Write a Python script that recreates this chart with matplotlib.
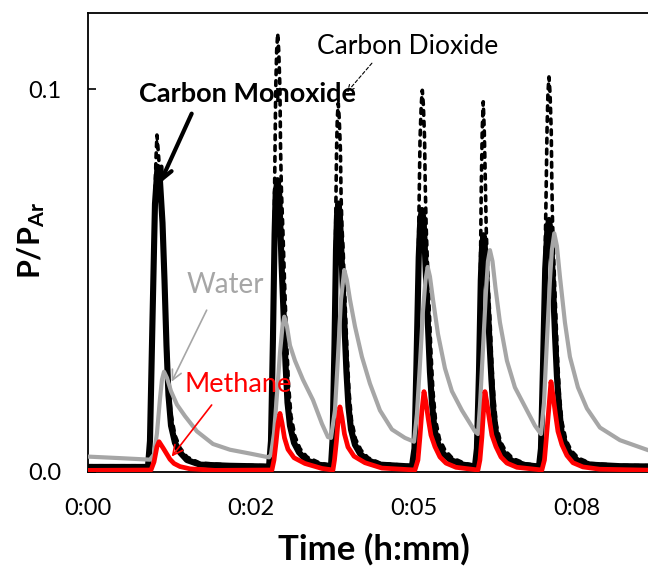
import matplotlib
matplotlib.use("Agg")
import matplotlib.pyplot as plt

plt.rcParams["font.family"] = ["Lato", "DejaVu Sans"]
plt.rcParams["mathtext.fontset"] = "custom"
plt.rcParams["mathtext.rm"] = "Lato"
plt.rcParams["mathtext.bf"] = "Lato:bold"

# ---- data: time in seconds, signal as P/P_Ar ----
co_t = [0, 63.6, 65.7, 68.4, 71.0, 73.7, 76.3, 79.0, 81.1, 83.2, 85.3, 88.0, 92.2, 97.5, 104.9, 118.7, 150.5, 191.9,
        194.0, 196.1, 197.8, 199.0, 200.9, 202.6, 203.8, 205.1, 207.2, 209.4, 211.5, 214.1, 218.4, 223.7, 231.1, 243.8, 257.6,
        259.2, 261.3, 262.9, 264.0, 265.5, 267.0, 268.2, 269.8, 271.9, 274.0, 276.1, 278.8, 283.0, 288.3, 295.7, 309.5, 343.4,
        346.1, 348.2, 350.6, 352.3, 354.0, 355.7, 357.0, 358.6, 360.6, 362.5, 364.6, 367.3, 371.5, 376.8, 384.3, 397.5, 410.2,
        412.3, 414.5, 416.4, 417.8, 419.2, 420.6, 422.0, 423.7, 425.6, 427.7, 429.8, 432.5, 436.7, 442.0, 449.4, 463.2, 478.1,
        480.2, 482.3, 484.7, 486.9, 488.7, 490.4, 491.8, 493.4, 495.2, 497.1, 499.3, 501.9, 506.2, 511.5, 518.9, 532.1, 563.9, 606.3]
co_v = [0.0012, 0.0012, 0.008, 0.040, 0.070, 0.0797, 0.076, 0.065, 0.050, 0.033, 0.020, 0.012, 0.0075, 0.005, 0.003, 0.0018, 0.0015, 0.0013,
        0.008, 0.035, 0.062, 0.073, 0.0762, 0.073, 0.065, 0.055, 0.042, 0.028, 0.018, 0.012, 0.0075, 0.005, 0.003, 0.0018, 0.0014,
        0.008, 0.033, 0.058, 0.067, 0.0701, 0.067, 0.060, 0.050, 0.038, 0.026, 0.017, 0.011, 0.007, 0.0047, 0.003, 0.0018, 0.0013,
        0.006, 0.028, 0.056, 0.066, 0.0684, 0.066, 0.059, 0.049, 0.037, 0.026, 0.018, 0.011, 0.007, 0.0046, 0.003, 0.0018, 0.0013,
        0.006, 0.026, 0.050, 0.059, 0.0618, 0.059, 0.053, 0.044, 0.034, 0.024, 0.016, 0.010, 0.0065, 0.0043, 0.0028, 0.0017, 0.0013,
        0.006, 0.027, 0.053, 0.063, 0.0658, 0.063, 0.056, 0.046, 0.035, 0.025, 0.017, 0.0105, 0.007, 0.0045, 0.0029, 0.0018, 0.0014, 0.0013]

co2_t = [0, 63.6, 65.7, 68.4, 70.5, 72.1, 73.1, 74.7, 76.9, 79.0, 81.1, 83.2, 85.3, 88.0, 92.2, 97.5, 104.9, 118.7, 150.5, 191.9,
         194.0, 196.1, 197.3, 198.3, 199.0, 200.0, 201.1, 202.2, 203.5, 204.1, 205.0, 206.6, 208.3, 210.4, 212.5, 215.2, 219.4, 224.7, 232.1, 245.9, 257.6,
         259.2, 261.3, 262.2, 262.9, 263.5, 264.3, 265.3, 266.3, 267.6, 268.3, 269.2, 270.3, 272.4, 274.5, 276.7, 279.3, 283.6, 289.4, 296.8, 310.6, 343.4,
         346.1, 348.2, 350.3, 351.3, 352.0, 353.3, 354.4, 355.5, 356.8, 357.5, 358.5, 359.5, 361.5, 363.6, 365.7, 368.4, 372.6, 378.4, 385.8, 399.6, 410.2,
         412.3, 414.5, 415.8, 416.4, 416.9, 417.9, 419.0, 420.1, 421.4, 422.1, 423.0, 424.0, 426.1, 428.2, 430.4, 433.0, 437.3, 443.1, 450.5, 464.3, 478.1,
         480.2, 482.3, 484.5, 485.6, 486.6, 487.6, 488.7, 489.8, 491.1, 491.7, 492.4, 493.8, 495.6, 497.7, 499.8, 502.4, 506.7, 512.5, 519.9, 533.2, 563.9, 606.3]
co2_v = [0.0015, 0.0015, 0.008, 0.040, 0.068, 0.082, 0.088, 0.083, 0.075, 0.067, 0.053, 0.037, 0.024, 0.015, 0.0095, 0.0062, 0.0038, 0.0022, 0.0017, 0.0015,
         0.008, 0.035, 0.062, 0.085, 0.100, 0.110, 0.1146, 0.110, 0.100, 0.085, 0.074, 0.063, 0.050, 0.035, 0.023, 0.0145, 0.0092, 0.006, 0.0038, 0.0022, 0.0016,
         0.008, 0.033, 0.055, 0.072, 0.084, 0.0925, 0.0963, 0.0925, 0.084, 0.072, 0.064, 0.059, 0.045, 0.032, 0.021, 0.0135, 0.0085, 0.0056, 0.0036, 0.0021, 0.0015,
         0.006, 0.028, 0.058, 0.075, 0.087, 0.096, 0.0997, 0.096, 0.087, 0.075, 0.064, 0.057, 0.044, 0.031, 0.021, 0.0135, 0.0085, 0.0056, 0.0036, 0.0021, 0.0016,
         0.006, 0.026, 0.045, 0.062, 0.074, 0.089, 0.0967, 0.089, 0.074, 0.064, 0.057, 0.050, 0.040, 0.028, 0.019, 0.012, 0.0078, 0.0052, 0.0034, 0.002, 0.0016,
         0.006, 0.027, 0.055, 0.072, 0.089, 0.099, 0.1032, 0.099, 0.089, 0.076, 0.066, 0.055, 0.043, 0.030, 0.020, 0.013, 0.0082, 0.0054, 0.0035, 0.0021, 0.0016, 0.0015]

h2o_t = [0, 33.9, 65.7, 70.0, 73.1, 76.3, 78.4, 80.6, 83.7, 88.0, 94.3, 102.8, 115.5, 132.5, 150.5, 171.7, 191.9,
         194.0, 197.2, 200.3, 203.5, 206.2, 208.1, 210.9, 214.1, 219.4, 227.9, 238.5, 248.0, 254.4, 257.6,
         261.8, 265.0, 268.2, 271.7, 274.5, 277.7, 283.0, 290.4, 298.9, 309.5, 322.2, 336.0, 345.6,
         348.7, 351.9, 355.1, 357.8, 360.1, 362.5, 365.7, 371.0, 378.4, 385.8, 396.4, 410.2, 413.4,
         415.5, 418.7, 421.9, 424.0, 426.1, 428.8, 432.0, 436.7, 444.1, 452.6, 463.2, 473.8, 480.2,
         483.4, 486.5, 489.7, 491.8, 494.3, 497.1, 500.3, 505.6, 510.9, 519.4, 528.9, 542.7, 563.9, 593.6, 606.3]
h2o_v = [0.0039, 0.0035, 0.0031, 0.0045, 0.010, 0.019, 0.024, 0.0261, 0.0245, 0.021, 0.0175, 0.0145, 0.0105, 0.0072, 0.0057, 0.0047, 0.0037,
         0.0045, 0.010, 0.020, 0.031, 0.038, 0.0405, 0.038, 0.033, 0.029, 0.024, 0.0187, 0.0125, 0.009, 0.0088,
         0.016, 0.030, 0.045, 0.0527, 0.050, 0.045, 0.038, 0.030, 0.023, 0.016, 0.011, 0.0088, 0.0078,
         0.015, 0.028, 0.042, 0.050, 0.0535, 0.051, 0.045, 0.036, 0.027, 0.021, 0.016, 0.0105, 0.0098,
         0.017, 0.032, 0.047, 0.055, 0.0579, 0.055, 0.048, 0.039, 0.029, 0.022, 0.017, 0.012, 0.0098,
         0.018, 0.034, 0.050, 0.058, 0.0623, 0.059, 0.051, 0.039, 0.030, 0.022, 0.0165, 0.0115, 0.0082, 0.0056, 0.005]

ch4_t = [0, 66.8, 70.0, 73.1, 75.3, 77.4, 80.0, 83.7, 86.9, 91.2, 97.5, 108.1, 134.6,
         195.0, 197.2, 199.3, 201.4, 203.5, 205.6, 208.3, 212.0, 218.4, 230.0, 248.0, 259.7,
         261.3, 263.4, 265.2, 267.1, 269.2, 271.9, 275.6, 282.0, 293.6, 311.6, 346.6,
         349.8, 351.9, 354.0, 356.2, 358.3, 360.9, 363.6, 367.8, 373.1, 379.5, 390.1, 413.4,
         415.5, 417.6, 419.2, 420.8, 422.9, 425.6, 428.2, 432.5, 437.8, 444.1, 454.7, 481.2,
         483.9, 486.0, 488.7, 490.8, 492.9, 495.6, 498.2, 502.4, 507.7, 514.1, 524.7, 542.7, 606.3]
ch4_v = [0.0003, 0.0004, 0.0025, 0.0065, 0.0078, 0.007, 0.006, 0.0045, 0.0032, 0.0021, 0.0013, 0.0007, 0.0003,
         0.0004, 0.003, 0.0075, 0.0125, 0.0152, 0.0128, 0.0088, 0.0058, 0.0036, 0.0021, 0.0008, 0.0004,
         0.003, 0.008, 0.0135, 0.0169, 0.0142, 0.0098, 0.0064, 0.004, 0.0023, 0.0009, 0.0004,
         0.003, 0.009, 0.016, 0.0209, 0.018, 0.0135, 0.0095, 0.0065, 0.0038, 0.0022, 0.0011, 0.0004,
         0.003, 0.009, 0.0155, 0.0209, 0.018, 0.0135, 0.0095, 0.0065, 0.0038, 0.0022, 0.0011, 0.0004,
         0.003, 0.009, 0.017, 0.0235, 0.020, 0.015, 0.0105, 0.007, 0.0042, 0.0023, 0.0012, 0.0006, 0.0003]

x_ticks = [0, 172.8, 345.6, 518.4]
x_tick_labels = ["0:00", "0:02", "0:05", "0:08"]
y_ticks = [0.0, 0.1]
y_tick_labels = ["0.0", "0.1"]

GRAY = "#A6A6A6"
RED = "#FF0000"

fig = plt.figure(figsize=(6.48, 5.67), dpi=100)
ax = fig.add_axes([0.1358, 0.1684, 0.8804, 0.8092])

ax.plot(co_t, co_v, color="black", lw=4.4, solid_joinstyle="round", zorder=2)
ax.plot(co2_t, co2_v, color="black", lw=2.6, dashes=(1.3, 1.7),
        dash_capstyle="round", zorder=3)
ax.plot(h2o_t, h2o_v, color=GRAY, lw=3.0, zorder=4)
ax.plot(ch4_t, ch4_v, color=RED, lw=3.4, zorder=5)

ax.set_xlim(0, 604.8)
ax.set_ylim(0, 0.12)
ax.set_xticks(x_ticks)
ax.set_xticklabels(x_tick_labels)
ax.set_yticks(y_ticks)
ax.set_yticklabels(y_tick_labels)
ax.tick_params(axis="x", length=0, pad=19, labelsize=17)
ax.tick_params(axis="y", direction="in", length=6, width=1.2, pad=19, labelsize=17)
for side in ("left", "top", "bottom"):
    ax.spines[side].set_linewidth(1.3)
ax.spines["right"].set_visible(False)

# labels with arrows
ax.text(169.6, 0.0967, "Carbon Monoxide", fontsize=19.5, fontweight="bold",
        ha="center", va="baseline", zorder=6)
ax.annotate("", xy=(76.3, 0.0754), xytext=(109.9, 0.0936),
            arrowprops=dict(arrowstyle="->,head_length=0.8,head_width=0.4",
                            color="black", lw=3.0, shrinkA=0, shrinkB=0),
            zorder=6)

ax.text(338.7, 0.1091, "Carbon Dioxide", fontsize=19, ha="center", va="baseline", zorder=6)
ax.annotate("", xy=(274.5, 0.0992), xytext=(301.0, 0.1068),
            arrowprops=dict(arrowstyle="->,head_length=0.45,head_width=0.22",
                            color="black", lw=0.8, ls=(0, (3, 2)), shrinkA=0, shrinkB=0),
            zorder=6)

ax.text(145.2, 0.0467, "Water", fontsize=20, color=GRAY, ha="center", va="baseline", zorder=6)
ax.annotate("", xy=(88.7, 0.0235), xytext=(125.8, 0.0422),
            arrowprops=dict(arrowstyle="->,head_length=0.7,head_width=0.35",
                            color=GRAY, lw=1.2, shrinkA=0, shrinkB=0),
            zorder=6)

ax.text(159.0, 0.0209, "Methane", fontsize=19.5, color=RED, ha="center", va="baseline", zorder=6)
ax.annotate("", xy=(88.7, 0.0039), xytext=(131.1, 0.0174),
            arrowprops=dict(arrowstyle="->,head_length=0.7,head_width=0.35",
                            color=RED, lw=1.2, shrinkA=0, shrinkB=0),
            zorder=6)

fig.text(374 / 648, (567 - 560) / 567, "Time (h:mm)", fontsize=25, fontweight="bold",
         ha="center", va="baseline")
fig.text(31 / 648, 1 - 240 / 567, r"$\mathbf{P/P_{Ar}}$", fontsize=22, rotation=90,
         ha="center", va="center")

fig.savefig("out.png", dpi=100)
